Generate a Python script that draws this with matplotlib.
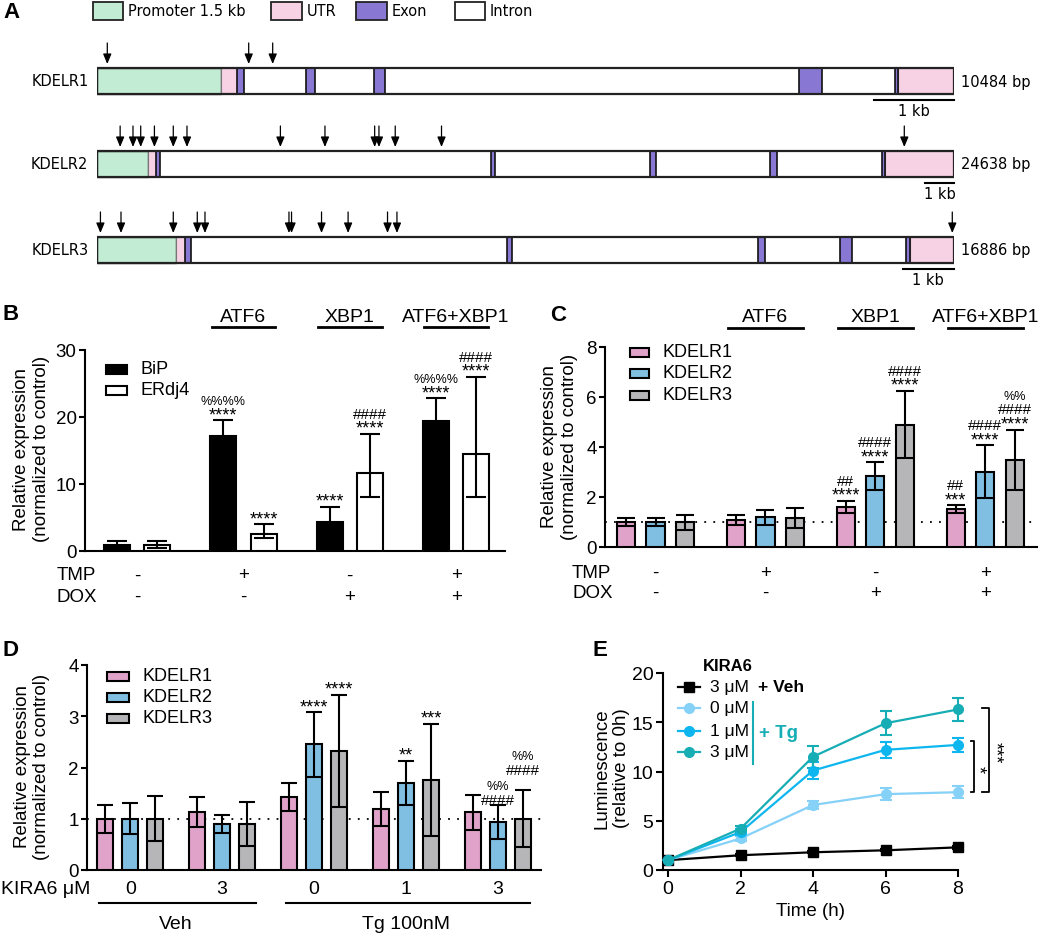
import numpy as np
import matplotlib
matplotlib.use('Agg')
import matplotlib.pyplot as plt
from matplotlib.patches import Rectangle

plt.rcParams['font.family'] = ['Liberation Sans', 'DejaVu Sans']

W, H = 1050, 937

# ── Panel A: gene structures (positions as fraction of the drawn gene) ──────
genes = ['KDELR1', 'KDELR2', 'KDELR3']
gene_bp = [10484, 24638, 16886]
promoter_end = [0.145, 0.060, 0.092]
utr5 = [(0.145, 0.163), (0.060, 0.069), (0.092, 0.103)]
exons = [
    [(0.163, 0.172), (0.244, 0.254), (0.323, 0.336), (0.819, 0.846), (0.931, 0.935)],
    [(0.069, 0.074), (0.460, 0.464), (0.645, 0.652), (0.785, 0.794), (0.916, 0.919)],
    [(0.103, 0.110), (0.478, 0.484), (0.771, 0.780), (0.867, 0.881), (0.944, 0.949)],
]
utr3_start = [0.935, 0.919, 0.949]
sites = [
    [0.012, 0.177, 0.205],
    [0.027, 0.042, 0.051, 0.067, 0.089, 0.105, 0.214, 0.266, 0.324, 0.329, 0.348, 0.402, 0.942],
    [0.004, 0.028, 0.089, 0.117, 0.126, 0.224, 0.227, 0.262, 0.293, 0.339, 0.350, 0.998],
]
kb_bar = [0.093, 0.034, 0.060]

# ── Panel B ──────────────────────────────────────────────────────────────────
b_groups = ['', 'ATF6', 'XBP1', 'ATF6+XBP1']
b_tmp = ['-', '+', '-', '+']
b_dox = ['-', '-', '+', '+']
bip = [0.95, 17.1, 4.4, 19.4]
bip_err = [0.5, 2.4, 2.2, 3.4]
erdj4 = [0.9, 2.5, 11.6, 14.5]
erdj4_lo = [0.4, 0.6, 3.5, 6.4]
erdj4_hi = [0.65, 1.5, 5.9, 11.5]
bip_sig = [[], ['****', '%%%%'], ['****'], ['****', '%%%%']]
erdj4_sig = [[], ['****'], ['****', '####'], ['****', '####']]

# ── Panel C ──────────────────────────────────────────────────────────────────
c_k1 = [1.0, 1.07, 1.6, 1.53]
c_k1_err = [0.15, 0.2, 0.25, 0.15]
c_k2 = [1.0, 1.2, 2.85, 3.02]
c_k2_err = [0.15, 0.3, 0.55, 1.05]
c_k3 = [1.0, 1.15, 4.9, 3.5]
c_k3_err = [0.3, 0.4, 1.35, 1.2]
c_k1_sig = [[], [], ['****', '##'], ['***', '##']]
c_k2_sig = [[], [], ['****', '####'], ['****', '####']]
c_k3_sig = [[], [], ['****', '####'], ['****', '####', '%%']]

# ── Panel D ──────────────────────────────────────────────────────────────────
d_kira = ['0', '3', '0', '1', '3']
d_k1 = [1.0, 1.13, 1.43, 1.19, 1.13]
d_k1_err = [0.27, 0.29, 0.27, 0.34, 0.34]
d_k2 = [1.0, 0.9, 2.45, 1.7, 0.93]
d_k2_err = [0.3, 0.18, 0.63, 0.43, 0.33]
d_k3 = [1.0, 0.9, 2.32, 1.76, 1.0]
d_k3_err = [0.44, 0.43, 1.1, 1.09, 0.56]
d_k1_sig = [[], [], [], [], []]
d_k2_sig = [[], [], ['****'], ['**'], ['####', '%%']]
d_k3_sig = [[], [], ['****'], ['***'], ['', '####', '%%']]

# ── Panel E ──────────────────────────────────────────────────────────────────
e_time = [0, 2, 4, 6, 8]
e_veh3 = [1.0, 1.5, 1.8, 2.0, 2.3]
e_veh3_err = [0.0, 0.1, 0.1, 0.1, 0.15]
e_tg0 = [1.0, 3.2, 6.6, 7.7, 7.9]
e_tg0_err = [0.0, 0.3, 0.4, 0.6, 0.6]
e_tg1 = [1.0, 3.85, 10.1, 12.2, 12.7]
e_tg1_err = [0.0, 0.3, 0.9, 0.8, 0.7]
e_tg3 = [1.0, 4.2, 11.5, 14.9, 16.3]
e_tg3_err = [0.0, 0.3, 1.1, 1.2, 1.2]

# colours
c_prom, c_utr, c_exon = '#c3ecd5', '#f7d1e4', '#8878d4'
c_pink, c_blue, c_gray = '#e0a2c9', '#80bfe2', '#b6b6b9'
c_teal, c_sky, c_light = '#17adb5', '#0db6ef', '#85d1f7'

# font size per significance symbol (asterisks drawn larger, as in GraphPad)
SIG_SIZE = {'*': 13, '#': 11, '%': 9}
TICK = 13.5
LAB = 13.5

fig = plt.figure(figsize=(W / 100, H / 100), dpi=100)


def add_ax(x0, y0, x1, y1):
    return fig.add_axes([x0 / W, 1 - y1 / H, (x1 - x0) / W, (y1 - y0) / H])


def style(ax, ticks):
    for s in ['top', 'right']:
        ax.spines[s].set_visible(False)
    for s in ['left', 'bottom']:
        ax.spines[s].set_linewidth(1.5)
    ax.set_yticks(ticks)
    ax.tick_params(axis='y', direction='out', length=4, width=1.5, labelsize=TICK, pad=2)
    ax.set_xticks([])


def bars(ax, x, vals, lo, hi, color, sigs, width, cap):
    ax.bar(x, vals, width, color=color, edgecolor='black', linewidth=1.5, zorder=3)
    ax.errorbar(x, vals, yerr=[lo, hi], fmt='none', ecolor='black', elinewidth=1.5,
                capsize=cap, capthick=1.5, zorder=4)
    for xi, v, h, lines in zip(x, vals, hi, sigs):
        for k, s in enumerate(lines):
            if s:
                ax.annotate(s, xy=(xi, v + h), xytext=(0, 1 + 15 * k), textcoords='offset pixels',
                            ha='center', va='baseline', fontsize=SIG_SIZE[s[0]])


def row_text(ax, xs, labels, dy, size=TICK):
    for xi, s in zip(xs, labels):
        ax.annotate(s, xy=(xi, 0), xycoords=('data', 'axes fraction'), xytext=(0, dy),
                    textcoords='offset pixels', ha='center', va='center', fontsize=size)


def group_heads(ax, xs, labels, hw, text_dy, line_dy, ax_h):
    for xi, s in zip(xs, labels):
        if not s:
            continue
        ax.annotate(s, xy=(xi, 1), xycoords=('data', 'axes fraction'), xytext=(0, text_dy),
                    textcoords='offset pixels', ha='center', va='center', fontsize=14)
        ax.plot([xi - hw, xi + hw], [1 + line_dy / ax_h] * 2, color='black', lw=2,
                transform=ax.get_xaxis_transform(), clip_on=False)


def row_label(ax, text, dx, dy):
    ax.annotate(text, xy=(0, 0), xycoords='axes fraction', xytext=(dx, dy),
                textcoords='offset pixels', ha='left', va='center', fontsize=TICK)


def ylabel(ax, text, x, y):
    ax.text(x, y, text, rotation=90, ha='center', va='center', transform=ax.transAxes,
            fontsize=LAB, multialignment='center')


# ── A ────────────────────────────────────────────────────────────────────────
axA = add_ax(97, 0, 954, 300)
axA.set_xlim(0, 1)
axA.set_ylim(300, 0)
axA.axis('off')
row_top = [69, 152, 238]
row_h = 26
fA = ['DejaVu Sans']
for i, g in enumerate(genes):
    top = row_top[i]
    bot = top + row_h
    axA.add_patch(Rectangle((0, top), 1, row_h, fc='white', ec='none', zorder=1))
    axA.add_patch(Rectangle((0, top), promoter_end[i], row_h, fc=c_prom, ec='#333333', lw=1.0, zorder=2))
    s, e = utr5[i]
    axA.add_patch(Rectangle((s, top), e - s, row_h, fc=c_utr, ec='#777777', lw=0.8, zorder=2))
    axA.add_patch(Rectangle((utr3_start[i], top), 1 - utr3_start[i], row_h, fc=c_utr, ec='#777777', lw=0.8, zorder=2))
    for s, e in exons[i]:
        axA.add_patch(Rectangle((s, top), e - s, row_h, fc=c_exon, ec='#111111', lw=1.2, zorder=3))
    axA.add_patch(Rectangle((0, top), 1, row_h, fill=False, ec='#222222', lw=1.6, zorder=4))
    for f in sites[i]:
        axA.annotate('', xy=(f, top - 4), xytext=(f, top - 25),
                     arrowprops=dict(arrowstyle='-|>,head_width=0.25,head_length=0.6',
                                     color='black', lw=0.9, shrinkA=0, shrinkB=0))
    axA.plot([1 - kb_bar[i], 1], [bot + 6, bot + 6], color='black', lw=1.5, clip_on=False)
    axA.text(1 - kb_bar[i] / 2, bot + 17, '1 kb', ha='center', va='center', fontsize=10.5, family=fA)
    axA.text(-0.01, top + row_h / 2, g, ha='right', va='center', fontsize=10.5, family=fA)
    axA.text(1.008, top + row_h / 2, f'{gene_bp[i]} bp', ha='left', va='center', fontsize=10.5, family=fA)

# ── B ────────────────────────────────────────────────────────────────────────
axB = add_ax(85, 351, 505, 552)
style(axB, [0, 10, 20, 30])
axB.set_ylim(0, 30)
axB.set_xlim(-0.49, 3.46)
gB = np.arange(len(bip))
bars(axB, gB - 0.19, bip, bip_err, bip_err, 'black', bip_sig, 0.245, 7)
bars(axB, gB + 0.19, erdj4, erdj4_lo, erdj4_hi, 'white', erdj4_sig, 0.245, 7)
group_heads(axB, gB, b_groups, 0.3, 33, 23, 201)
row_text(axB, gB, b_tmp, -24)
row_text(axB, gB, b_dox, -45)
row_label(axB, 'TMP', -28, -24)
row_label(axB, 'DOX', -28, -45)
ylabel(axB, 'Relative expression\n(normalized to control)', -0.128, 0.512)

# ── C ────────────────────────────────────────────────────────────────────────
axC = add_ax(605, 348, 1037, 548)
style(axC, [0, 2, 4, 6, 8])
axC.set_ylim(0, 8)
axC.set_xlim(-0.46, 3.47)
axC.axhline(1, color='black', lw=1.3, ls=(0, (1, 4)), zorder=2)
gC = np.arange(len(c_k1))
bars(axC, gC - 0.27, c_k1, c_k1_err, c_k1_err, c_pink, c_k1_sig, 0.165, 6.5)
bars(axC, gC, c_k2, c_k2_err, c_k2_err, c_blue, c_k2_sig, 0.165, 6.5)
bars(axC, gC + 0.27, c_k3, c_k3_err, c_k3_err, c_gray, c_k3_sig, 0.165, 6.5)
group_heads(axC, gC, b_groups, 0.34, 30, 19, 200)
row_text(axC, gC, b_tmp, -25)
row_text(axC, gC, b_dox, -45)
row_label(axC, 'TMP', -33, -25)
row_label(axC, 'DOX', -33, -45)
ylabel(axC, 'Relative expression\n(normalized to control)', -0.106, 0.505)

# ── D ────────────────────────────────────────────────────────────────────────
axD = add_ax(87, 666, 541, 871)
style(axD, [0, 1, 2, 3, 4])
axD.set_ylim(0, 4)
axD.set_xlim(-0.47, 4.47)
axD.axhline(1, color='black', lw=1.3, ls=(0, (1, 4)), zorder=2)
gD = np.arange(len(d_k1))
bars(axD, gD - 0.272, d_k1, d_k1_err, d_k1_err, c_pink, d_k1_sig, 0.174, 6)
bars(axD, gD, d_k2, d_k2_err, d_k2_err, c_blue, d_k2_sig, 0.174, 6)
bars(axD, gD + 0.272, d_k3, d_k3_err, d_k3_err, c_gray, d_k3_sig, 0.174, 6)
row_text(axD, gD, d_kira, -19, 14)
axD.annotate('KIRA6 \u03bcM', xy=(0, 0), xycoords='axes fraction', xytext=(-86, -19),
             textcoords='offset pixels', ha='left', va='center', fontsize=14)
xt = axD.get_xaxis_transform()
lineD_y = -33 / 205
axD.plot([gD[0] - 0.34, gD[1] + 0.37], [lineD_y] * 2, color='black', lw=1.5, transform=xt, clip_on=False)
axD.plot([gD[2] - 0.30, gD[4] + 0.35], [lineD_y] * 2, color='black', lw=1.5, transform=xt, clip_on=False)
row_text(axD, [gD[:2].mean(), gD[2:].mean()], ['Veh', 'Tg 100nM'], -54, 14)
ylabel(axD, 'Relative expression\n(normalized to control)', -0.121, 0.51)

# ── E ────────────────────────────────────────────────────────────────────────
axE = add_ax(663, 674, 958, 871)
for s in ['top', 'right']:
    axE.spines[s].set_visible(False)
for s in ['left', 'bottom']:
    axE.spines[s].set_linewidth(1.5)
axE.set_xlim(-0.14, 8)
axE.set_ylim(0, 20)
axE.set_xticks(e_time)
axE.set_yticks([0, 5, 10, 15, 20])
axE.tick_params(direction='out', length=5, width=1.5, labelsize=14, pad=2)
series_E = [(e_veh3, e_veh3_err, 'black', 's'), (e_tg0, e_tg0_err, c_light, 'o'),
            (e_tg1, e_tg1_err, c_sky, 'o'), (e_tg3, e_tg3_err, c_teal, 'o')]
for vals, err, col, mk in series_E:
    cont = axE.errorbar(e_time, vals, yerr=err, color=col, marker=mk, ms=7, lw=1.6,
                        elinewidth=1.5, capsize=4, capthick=1.5, zorder=3)
    for art in cont.get_children():
        art.set_clip_on(False)
lo = e_tg0[-1]
axE.plot([8.36, 8.44, 8.44, 8.36], [e_tg1[-1] + 0.4, e_tg1[-1] + 0.4, lo, lo],
         color='black', lw=1.3, clip_on=False)
axE.plot([8.66, 8.86, 8.86, 8.66], [e_tg3[-1] + 0.1, e_tg3[-1] + 0.1, lo, lo],
         color='black', lw=1.3, clip_on=False)
axE.text(8.55, (lo + e_tg1[-1]) / 2, '*', rotation=270, ha='center', va='center', fontsize=13)
axE.text(9.0, 12.0, '***', rotation=270, ha='center', va='center', fontsize=13)
axE.set_xlabel('Time (h)', fontsize=LAB, labelpad=4)
ylabel(axE, 'Luminescence\n(relative to 0h)', -0.175, 0.52)

# ── overlay: panel letters and legends ──────────────────────────────────────
ov = add_ax(0, 0, W, H)
ov.set_xlim(0, W)
ov.set_ylim(H, 0)
ov.axis('off')
for s, (x, y) in zip('ABCDE', [(3, 13), (3, 315), (550, 316), (3, 651), (592, 651)]):
    ov.text(x, y, s, fontsize=16, fontweight='bold', ha='left', va='center')

for (x0, x1), fc, lab in zip([(93, 123), (271, 302), (356, 387), (455, 485)],
                             [c_prom, c_utr, c_exon, 'white'],
                             ['Promoter 1.5 kb', 'UTR', 'Exon', 'Intron']):
    ov.add_patch(Rectangle((x0, 3), x1 - x0, 18, fc=fc, ec='#222222', lw=1.3))
    ov.text(x1 + 5, 12, lab, ha='left', va='center', fontsize=10.5, family=fA)

for y, fc, lab in zip([370, 391], ['black', 'white'], ['BiP', 'ERdj4']):
    ov.add_patch(Rectangle((106, y - 4.5), 21, 9, fc=fc, ec='black', lw=1.5))
    ov.text(140, y, lab, ha='left', va='center', fontsize=13)

for y, fc, lab in zip([353, 374, 396], [c_pink, c_blue, c_gray], ['KDELR1', 'KDELR2', 'KDELR3']):
    ov.add_patch(Rectangle((630, y - 4.5), 19, 9, fc=fc, ec='black', lw=1.5))
    ov.text(662, y, lab, ha='left', va='center', fontsize=13)

for y, fc, lab in zip([677, 698, 719], [c_pink, c_blue, c_gray], ['KDELR1', 'KDELR2', 'KDELR3']):
    ov.add_patch(Rectangle((107, y - 4.5), 22, 9, fc=fc, ec='black', lw=1.5))
    ov.text(142, y, lab, ha='left', va='center', fontsize=13)

ov.text(703, 667, 'KIRA6', ha='left', va='center', fontsize=12, fontweight='bold')
for y, (vals, err, col, mk), lab in zip([688, 709, 732, 753], series_E,
                                         ['3 \u03bcM', '0 \u03bcM', '1 \u03bcM', '3 \u03bcM']):
    ov.plot([678, 700], [y, y], color=col, lw=1.6)
    ov.plot([689], [y], color=col, marker=mk, ms=7)
    ov.text(710, y, lab, ha='left', va='center', fontsize=12.5)
ov.text(758, 688, '+ Veh', ha='left', va='center', fontsize=12.5, fontweight='bold')
ov.plot([753, 753], [703, 765], color=c_teal, lw=1.5)
ov.text(759, 734, '+ Tg', ha='left', va='center', fontsize=13.5, fontweight='bold', color=c_teal)

fig.savefig('out.png', dpi=100)
